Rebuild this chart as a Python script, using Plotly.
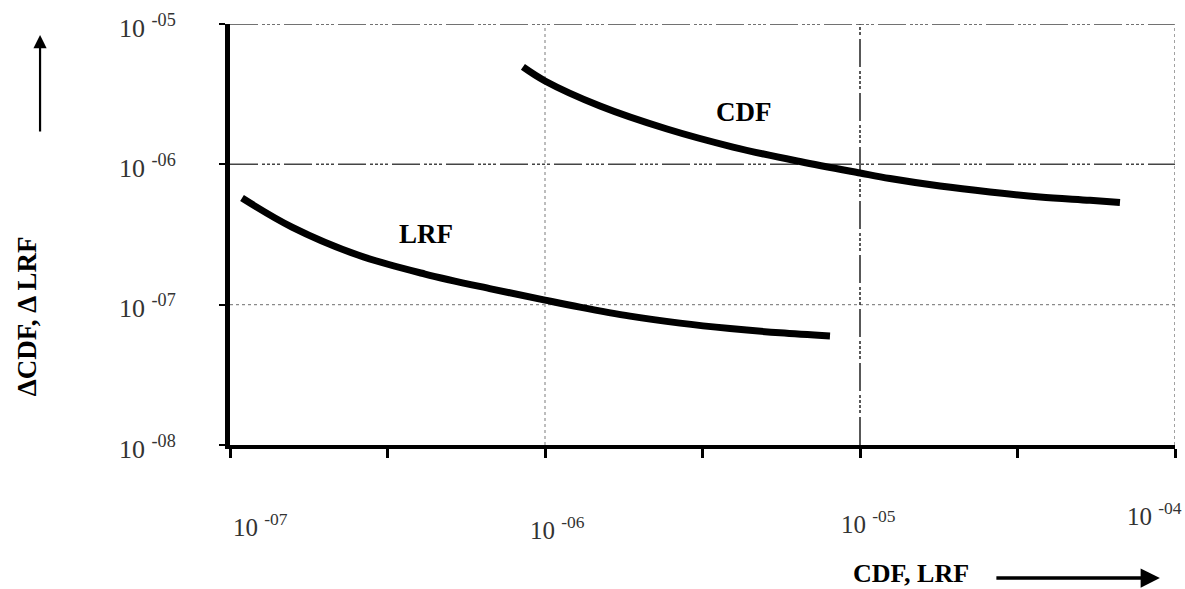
import math
import plotly.graph_objects as go

# ---- data ----
lrf_x = [1.092e-7, 1.573e-7, 2.548e-7, 4.159e-7, 6.788e-7, 1.0e-6, 1.291e-6, 1.862e-6,
         2.683e-6, 3.866e-6, 5.572e-6, 8.03e-6]
lrf_y = [5.75e-7, 3.57e-7, 2.257e-7, 1.652e-7, 1.291e-7, 1.078e-7, 9.61e-8, 8.29e-8,
         7.39e-8, 6.76e-8, 6.30e-8, 5.97e-8]
cdf_x = [8.51e-7, 1.0e-6, 1.495e-6, 2.440e-6, 3.952e-6, 6.449e-6, 1.0e-5, 1.245e-5,
         1.795e-5, 2.587e-5, 3.727e-5, 5.372e-5, 6.688e-5]
cdf_y = [4.94e-6, 3.925e-6, 2.603e-6, 1.785e-6, 1.328e-6, 1.047e-6, 8.67e-7, 7.92e-7,
         7.00e-7, 6.35e-7, 5.86e-7, 5.54e-7, 5.34e-7]

x_decades = [1e-7, 1e-6, 1e-5, 1e-4]
x_tick_vals = [1e-7, 10 ** -6.5, 1e-6, 10 ** -5.5, 1e-5, 10 ** -4.5, 1e-4]
x_tick_labels = ["10 <sup>-07</sup>", "10 <sup>-06</sup>", "10 <sup>-05</sup>", "10 <sup>-04</sup>"]
y_decades = [1e-8, 1e-7, 1e-6, 1e-5]
y_tick_labels = ["10 <sup>-08</sup>", "10 <sup>-07</sup>", "10 <sup>-06</sup>", "10 <sup>-05</sup>"]

curve_labels = ["LRF", "CDF"]
curve_label_pos = [(4.19e-7, 3.18e-7), (4.29e-6, 2.36e-6)]
x_title = "CDF, LRF"
y_title = "ΔCDF, Δ LRF"

SERIF = "Liberation Serif, Times New Roman, serif"
DASHDOT = "28px,4px,3px,2px,3px,2px,3px,2px,3px,4px"

fig = go.Figure()

# grid lines (styled individually as in the reference)
xmin, xmax = x_decades[0], x_decades[-1]
ymin, ymax = y_decades[0], y_decades[-1]
h_styles = {1e-7: ("#8a8a8a", "dot", 1.3), 1e-6: ("#444444", DASHDOT, 1.5), 1e-5: ("#444444", DASHDOT, 1.5)}
for yv, (col, dash, w) in h_styles.items():
    fig.add_trace(go.Scatter(x=[xmin, xmax], y=[yv, yv], mode="lines",
                             line=dict(color=col, dash=dash, width=w),
                             hoverinfo="skip", showlegend=False))
v_styles = {1e-6: ("#9a9a9a", "dot", 1.3), 1e-5: ("#222222", DASHDOT, 1.5), 1e-4: ("#8a8a8a", "dot", 1.6)}
for xv, (col, dash, w) in v_styles.items():
    fig.add_trace(go.Scatter(x=[xv, xv], y=[ymin, ymax], mode="lines",
                             line=dict(color=col, dash=dash, width=w),
                             hoverinfo="skip", showlegend=False))

# curves
fig.add_trace(go.Scatter(x=lrf_x, y=lrf_y, mode="lines", name="LRF",
                         line=dict(color="black", width=7, shape="spline", smoothing=1.0),
                         showlegend=False))
fig.add_trace(go.Scatter(x=cdf_x, y=cdf_y, mode="lines", name="CDF",
                         line=dict(color="black", width=7, shape="spline", smoothing=1.0),
                         showlegend=False))

annotations = []
# x tick labels
x_shift = [30, 12, 8, -21]
y_shift = [-80, -83, -77, -69]
for v, t, dx, dy in zip(x_decades, x_tick_labels, x_shift, y_shift):
    annotations.append(dict(x=math.log10(v), xref="x", y=0, yref="paper", text=t,
                            showarrow=False, xanchor="center", yanchor="middle",
                            xshift=dx, yshift=dy,
                            font=dict(family=SERIF, size=25, color="#333333")))
# y tick labels
for v, t in zip(y_decades, y_tick_labels):
    annotations.append(dict(x=0, xref="paper", y=math.log10(v), yref="y", text=t,
                            showarrow=False, xanchor="right", yanchor="middle",
                            xshift=-52, yshift=-2,
                            font=dict(family=SERIF, size=26, color="#333333")))
# curve labels
for lab, (lx, ly) in zip(curve_labels, curve_label_pos):
    annotations.append(dict(x=math.log10(lx), xref="x", y=math.log10(ly), yref="y",
                            text="<b>%s</b>" % lab, showarrow=False,
                            font=dict(family=SERIF, size=27, color="black")))
# axis titles
annotations.append(dict(x=0, xref="paper", y=0.306, yref="paper", text="<b>%s</b>" % y_title,
                        showarrow=False, textangle=-90, xanchor="center", yanchor="middle",
                        xshift=-203, font=dict(family=SERIF, size=27, color="black")))
annotations.append(dict(x=0.7206, xref="paper", y=0, yref="paper", text="<b>%s</b>" % x_title,
                        showarrow=False, xanchor="center", yanchor="bottom",
                        yshift=-144, borderpad=0,
                        font=dict(family=SERIF, size=26, color="black")))
# arrows
annotations.append(dict(x=-0.201, xref="paper", y=0.974, yref="paper", text="",
                        showarrow=True, ax=0, ay=98, arrowhead=2, arrowsize=1.2,
                        arrowwidth=2.2, arrowcolor="black"))
annotations.append(dict(x=0.984, xref="paper", y=-0.316, yref="paper", text="",
                        showarrow=True, ax=-165, ay=0, arrowhead=2, arrowsize=1.1,
                        arrowwidth=3.5, arrowcolor="black"))

fig.update_layout(
    width=1185, height=589,
    margin=dict(l=230, r=10, t=24, b=144),
    paper_bgcolor="white", plot_bgcolor="white",
    showlegend=False,
    annotations=annotations,
    xaxis=dict(type="log", range=[-7, -4], showgrid=False, zeroline=False,
               showline=True, linecolor="black", linewidth=4,
               tickmode="array", tickvals=x_tick_vals, ticks="outside",
               ticklen=9, tickwidth=3, tickcolor="black", showticklabels=False),
    yaxis=dict(type="log", range=[-8, -5], showgrid=False, zeroline=False,
               showline=True, linecolor="black", linewidth=5,
               tickmode="array", tickvals=y_decades, ticks="outside",
               ticklen=6, tickwidth=2, tickcolor="black", showticklabels=False),
)

fig.write_html("out.html", config={"displayModeBar": False},
               post_script="document.body.style.margin='0';document.body.style.overflow='hidden';")
